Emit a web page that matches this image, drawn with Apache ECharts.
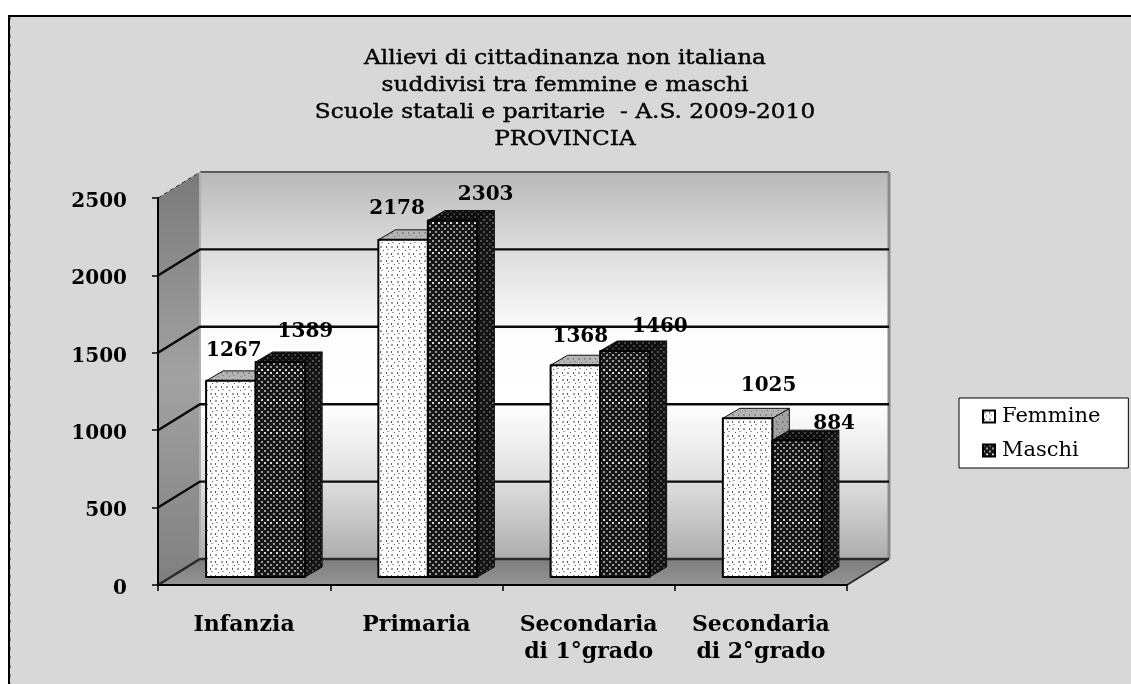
<!DOCTYPE html>
<html><head><meta charset="utf-8">
<style>html,body{margin:0;padding:0;background:#fff}#c{width:1131px;height:684px}</style>
<script src="https://cdn.jsdelivr.net/npm/echarts@6/dist/echarts.min.js"></script>
</head><body><div id="c"></div>
<script>
const categories = ['Infanzia', 'Primaria', 'Secondaria\ndi 1°grado', 'Secondaria\ndi 2°grado'];
const femmine = [1267, 2178, 1368, 1025];
const maschi = [1389, 2303, 1460, 884];
const yTicks = [0, 500, 1000, 1500, 2000, 2500];
const titleLines = ['Allievi di cittadinanza non italiana', 'suddivisi tra femmine e maschi', 'Scuole statali e paritarie  - A.S. 2009-2010', 'PROVINCIA'];

// label nudges relative to the bar's centre / top (as placed in the source chart)
const femmineNudge = [[3, -30], [-6, -31], [5, -28], [21, -33]];
const maschiNudge = [[25, -30], [33, -26], [35, -24], [37, -16]];

const SERIF = '"DejaVu Serif", serif';
const WALL = { dx: 42, dy: -26 };
const FLOOR = { dx: 11.5, dy: -8 };
const BAR = { share: 0.2875, dx: 17, dy: -10 };

function tile(w, h, paint) {
  const c = document.createElement('canvas');
  c.width = w; c.height = h;
  paint(c.getContext('2d'), w, h);
  return { image: c, repeat: 'repeat' };
}
function dotted(bg, dot, alt) {
  return tile(11, 14, (g, w, h) => {
    g.fillStyle = bg; g.fillRect(0, 0, w, h);
    g.fillStyle = dot;
    g.fillRect(1, 1, 2, 2); g.fillRect(6, 8, 2, 2);
    g.fillRect(7, 4, 2, 1); g.fillRect(2, 11, 2, 1);
    g.fillStyle = alt;
    g.fillRect(6, 1, 1, 2); g.fillRect(1, 8, 1, 2);
    g.fillRect(3, 5, 1, 1); g.fillRect(9, 12, 1, 1);
  });
}
function woven(bg, hole, bright) {
  return tile(6, 30, (g, w, h) => {
    g.fillStyle = bg; g.fillRect(0, 0, w, h);
    for (let y = 0; y < h; y += 3) {
      const odd = (y / 3) % 2;
      g.fillStyle = (y >= 9 && y < 15) ? bright : hole;
      g.fillRect(odd ? 3 : 0, y, 2, 2);
    }
  });
}
const pat = {
  fFront: dotted('#ffffff', '#a0a0a0', '#555555'),
  fTop: dotted('#b4b4b4', '#8c8c8c', '#7a7a7a'),
  fSide: dotted('#a2a2a2', '#7e7e7e', '#6a6a6a'),
  mFront: woven('#161616', '#9a9a9a', '#d8d8d8'),
  mTop: woven('#0d0d0d', '#404040', '#444444'),
  mSide: woven('#141414', '#4e4e4e', '#565656')
};

function renderWalls(params, api) {
  const half = api.size([1, 0])[0] / 2;
  const p0 = api.coord([0, 0]);
  const pN = api.coord([categories.length - 1, yTicks[yTicks.length - 1]]);
  const L = p0[0] - half, R = pN[0] + half, B = p0[1], T = pN[1];
  const dx = WALL.dx, dy = WALL.dy;
  const vert = (stops) => ({ type: 'linear', x: 0, y: 0, x2: 0, y2: 1, colorStops: stops });
  return {
    type: 'group', children: [
      { type: 'rect', shape: { x: L + dx, y: T + dy, width: R - L, height: B - T },
        style: { fill: vert([{ offset: 0, color: '#b9b9b9' }, { offset: 0.2, color: '#dcdcdc' }, { offset: 0.42, color: '#fdfdfd' }, { offset: 0.6, color: '#ffffff' }, { offset: 0.8, color: '#dedede' }, { offset: 1, color: '#adadad' }]) } },
      { type: 'polygon', shape: { points: [[L, B], [L + dx, B + dy], [L + dx, T + dy], [L, T]] },
        style: { fill: vert([{ offset: 0, color: '#7a7a7a' }, { offset: 0.5, color: '#a2a2a2' }, { offset: 1, color: '#7f7f7f' }]) } },
      { type: 'polygon', shape: { points: [[L, B], [L + dx, B + dy], [R + dx, B + dy], [R, B]] },
        style: { fill: { type: 'linear', x: 0, y: 0, x2: 0, y2: 1, colorStops: [{ offset: 0, color: '#7d7d7d' }, { offset: 1, color: '#959595' }] } } },
      { type: 'line', shape: { x1: L + dx, y1: T + dy, x2: R + dx, y2: T + dy }, style: { stroke: '#5a5a5a', lineWidth: 2 } },
      { type: 'line', shape: { x1: L, y1: T, x2: L + dx, y2: T + dy }, style: { stroke: '#333', lineWidth: 1, lineDash: [4, 3] } },
      { type: 'line', shape: { x1: L + dx, y1: T + dy, x2: L + dx, y2: B + dy }, style: { stroke: '#b0b0b0', lineWidth: 2 } },
      { type: 'line', shape: { x1: R + dx, y1: T + dy, x2: R + dx, y2: B + dy }, style: { stroke: '#8a8a8a', lineWidth: 3 } },
      { type: 'polyline', shape: { points: [[R, B], [R + dx, B + dy]] }, style: { stroke: '#222', lineWidth: 1.5, fill: 'none' } }
    ]
  };
}
function renderGrid(params, api) {
  const v = api.value(0);
  const half = api.size([1, 0])[0] / 2;
  const y = api.coord([0, v])[1];
  const L = api.coord([0, 0])[0] - half;
  const R = api.coord([categories.length - 1, 0])[0] + half;
  const dx = WALL.dx, dy = WALL.dy;
  const top = v === yTicks[yTicks.length - 1];
  const base = v === 0;
  return {
    type: 'group', children: top ? [] : [
      { type: 'polyline', shape: { points: [[L, y], [L + dx, y + dy], [R + dx, y + dy]] },
        style: { stroke: base ? '#2a2a2a' : '#0a0a0a', lineWidth: 2.4, fill: 'none' } }
    ]
  };
}
function barRenderer(index, faces, nudge) {
  return function (params, api) {
    const cat = api.value(0), val = api.value(1);
    const size = api.size([1, 0])[0];
    const w = size * BAR.share;
    const base = api.coord([cat, 0]);
    const top = api.coord([cat, val]);
    const xL = base[0] + FLOOR.dx + (index - 1) * w;
    const xR = xL + w;
    const yB = base[1] + FLOOR.dy, yT = top[1] + FLOOR.dy;
    const dx = BAR.dx, dy = BAR.dy;
    const edge = { stroke: '#000', lineWidth: 2, lineJoin: 'round' };
    const soft = { stroke: '#111', lineWidth: 1 };
    return {
      type: 'group', children: [
        { type: 'polygon', shape: { points: [[xR, yB], [xR + dx, yB + dy], [xR + dx, yT + dy], [xR, yT]] },
          style: Object.assign({ fill: faces.side }, soft) },
        { type: 'polygon', shape: { points: [[xL, yT], [xL + dx, yT + dy], [xR + dx, yT + dy], [xR, yT]] },
          style: Object.assign({ fill: faces.top }, soft) },
        { type: 'rect', shape: { x: xL, y: yT, width: w, height: yB - yT },
          style: Object.assign({ fill: faces.front }, edge) },
        { type: 'text', z2: 100,
          style: { text: String(val), x: xL + w / 2 + nudge[cat][0], y: yT + nudge[cat][1],
            align: 'center', verticalAlign: 'middle',
            font: 'bold 20px ' + SERIF, fill: '#000' } }
      ]
    };
  };
}

const chart = echarts.init(document.getElementById('c'), null, { renderer: 'canvas' });
const custom = (o) => Object.assign({ type: 'custom', coordinateSystem: 'cartesian2d', clip: false, silent: true, animation: false }, o);
const titleGraphics = titleLines.map((line, i) => ({
  type: 'text', z: 10, x: 565, y: 59 + i * 27, scaleX: 1.16, scaleY: 1,
  style: { text: line, x: 0, y: 0, align: 'center', verticalAlign: 'middle',
    font: '20px ' + SERIF, fill: '#000', stroke: '#000', lineWidth: 0.4 }
}));
chart.setOption({
  animation: false,
  backgroundColor: '#ffffff',
  graphic: [
    { type: 'rect', z: -10, shape: { x: 9, y: 16, width: 1200, height: 800 }, style: { fill: '#d8d8d8', stroke: '#000', lineWidth: 2 } },
    { type: 'line', z: -9, shape: { x1: 10.5, y1: 17, x2: 10.5, y2: 684 }, style: { stroke: '#8f8f8f', lineWidth: 1, lineDash: [3, 6] } }
  ].concat(titleGraphics),
  legend: {
    data: [
      { name: 'Femmine', itemStyle: { color: pat.fFront, borderColor: '#000', borderWidth: 2 } },
      { name: 'Maschi', itemStyle: { color: pat.mFront, borderColor: '#000', borderWidth: 2 } }
    ],
    orient: 'vertical', left: 959, top: 398, icon: 'rect',
    itemWidth: 12, itemHeight: 12, itemGap: 13, align: 'left',
    padding: [8, 28, 7, 23], backgroundColor: '#fff', borderColor: '#000', borderWidth: 1, borderRadius: 0,
    textStyle: { fontFamily: SERIF, fontSize: 21, color: '#000', padding: [0, 0, 0, 2] },
    selectedMode: false
  },
  grid: { left: 158, right: 284, top: 198, bottom: 99 },
  xAxis: {
    type: 'category', data: categories, z: 5,
    axisLine: { lineStyle: { color: '#000', width: 2 } },
    axisTick: { show: true, alignWithLabel: false, length: 6, lineStyle: { color: '#000', width: 1.5 } },
    axisLabel: { fontFamily: SERIF, fontWeight: 'bold', fontSize: 22, lineHeight: 27, color: '#000', margin: 27, interval: 0 }
  },
  yAxis: {
    type: 'value', min: 0, max: 2500, interval: 500, z: 5,
    axisLine: { show: true, lineStyle: { color: '#000', width: 2 } },
    axisTick: { show: true, length: 6, lineStyle: { color: '#000', width: 1.5 } },
    splitLine: { show: false },
    axisLabel: { fontFamily: SERIF, fontWeight: 'bold', fontSize: 20, color: '#000', margin: 31, verticalAlign: 'top', lineHeight: 7, formatter: (v) => String(v) }
  },
  series: [
    custom({ name: 'walls', data: [[0, 0]], renderItem: renderWalls, z: 1, encode: { x: 0, y: 1 } }),
    custom({ name: 'grid', data: yTicks.map(v => [v]), renderItem: renderGrid, z: 2, encode: { y: 0 } }),
    custom({ name: 'Femmine', data: femmine.map((v, i) => [i, v]), renderItem: barRenderer(0, { front: pat.fFront, top: pat.fTop, side: pat.fSide }, femmineNudge), z: 3, encode: { x: 0, y: 1 } }),
    custom({ name: 'Maschi', data: maschi.map((v, i) => [i, v]), renderItem: barRenderer(1, { front: pat.mFront, top: pat.mTop, side: pat.mSide }, maschiNudge), z: 4, encode: { x: 0, y: 1 } })
  ]
});
</script></body></html>
